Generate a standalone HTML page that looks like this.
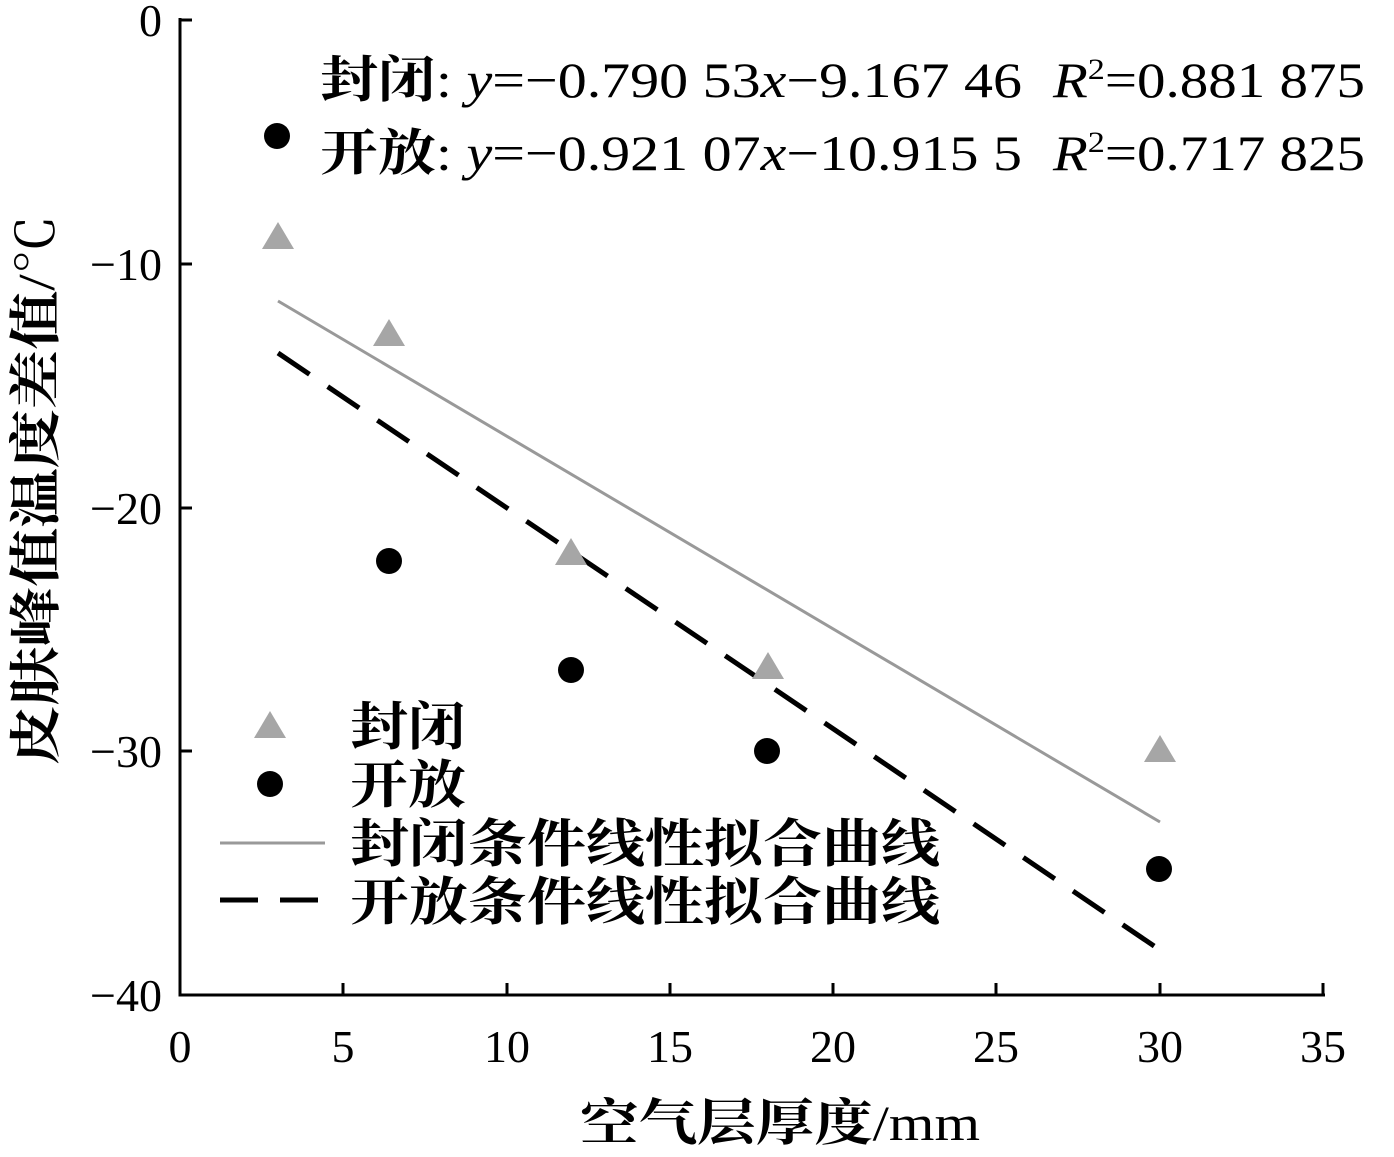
<!DOCTYPE html>
<html><head><meta charset="utf-8"><style>
html,body{margin:0;padding:0;background:#fff;}
svg{display:block;}
text{font-family:"Liberation Serif","Noto Serif CJK SC",serif;fill:#000;}
.cj{font-weight:bold;}
</style></head><body>
<svg width="1394" height="1157" viewBox="0 0 1394 1157" xmlns="http://www.w3.org/2000/svg">
<line x1="180" y1="18" x2="180" y2="995" stroke="#000" stroke-width="3"/>
<line x1="178.5" y1="995" x2="1325" y2="995" stroke="#000" stroke-width="3"/>
<g stroke="#000" stroke-width="3">
<line x1="343" y1="995" x2="343" y2="983"/>
<line x1="507" y1="995" x2="507" y2="983"/>
<line x1="670" y1="995" x2="670" y2="983"/>
<line x1="833" y1="995" x2="833" y2="983"/>
<line x1="996" y1="995" x2="996" y2="983"/>
<line x1="1160" y1="995" x2="1160" y2="983"/>
<line x1="1323" y1="995" x2="1323" y2="983"/>
<line x1="180" y1="20" x2="192" y2="20"/>
<line x1="180" y1="264" x2="192" y2="264"/>
<line x1="180" y1="508" x2="192" y2="508"/>
<line x1="180" y1="751" x2="192" y2="751"/>
</g>
<g font-size="46" text-anchor="middle">
<text x="180" y="1062">0</text>
<text x="343" y="1062">5</text>
<text x="507" y="1062">10</text>
<text x="670" y="1062">15</text>
<text x="833" y="1062">20</text>
<text x="996" y="1062">25</text>
<text x="1160" y="1062">30</text>
<text x="1323" y="1062">35</text>
</g>
<g font-size="46" text-anchor="end">
<text x="162" y="36">0</text>
<text x="162" y="280">−10</text>
<text x="162" y="524">−20</text>
<text x="162" y="767">−30</text>
<text x="162" y="1011">−40</text>
</g>
<text x="580" y="1140" font-size="50" textLength="400" lengthAdjust="spacingAndGlyphs"><tspan class="cj">空气层厚度</tspan>/mm</text>
<text transform="translate(54,765) rotate(-90)" font-size="52" textLength="550" lengthAdjust="spacingAndGlyphs"><tspan class="cj">皮肤峰值温度差值</tspan>/℃</text>
<line x1="278" y1="301" x2="1160" y2="822" stroke="#999" stroke-width="3"/>
<line x1="278" y1="353" x2="1160" y2="950" stroke="#000" stroke-width="5" stroke-dasharray="38,22"/>
<g fill="#a6a6a6">
<polygon points="278,222 262,249 294,249"/>
<polygon points="389,319 373,346 405,346"/>
<polygon points="571,538 555,565 587,565"/>
<polygon points="768,652 752,679 784,679"/>
<polygon points="1160,735 1144,762 1176,762"/>
<polygon points="270,711 254,738 286,738"/>
</g>
<g fill="#000">
<circle cx="389" cy="561" r="13"/>
<circle cx="571" cy="670" r="13"/>
<circle cx="767" cy="751" r="13"/>
<circle cx="1159" cy="869" r="13"/>
<circle cx="277" cy="136" r="13"/>
<circle cx="270" cy="784" r="13"/>
</g>
<text x="350" y="745" font-size="52" class="cj" textLength="116" lengthAdjust="spacingAndGlyphs">封闭</text>
<text x="350" y="803" font-size="52" class="cj" textLength="116" lengthAdjust="spacingAndGlyphs">开放</text>
<line x1="220" y1="843" x2="325" y2="843" stroke="#999" stroke-width="3"/>
<text x="350" y="862" font-size="52" class="cj" textLength="590" lengthAdjust="spacingAndGlyphs">封闭条件线性拟合曲线</text>
<line x1="220" y1="900" x2="330" y2="900" stroke="#000" stroke-width="5" stroke-dasharray="38,22"/>
<text x="350" y="920" font-size="52" class="cj" textLength="590" lengthAdjust="spacingAndGlyphs">开放条件线性拟合曲线</text>
<text x="320" y="97" font-size="50" textLength="702" lengthAdjust="spacingAndGlyphs"><tspan class="cj">封闭</tspan>: <tspan font-style="italic">y</tspan>=−0.790 53<tspan font-style="italic">x</tspan>−9.167 46</text>
<text x="1053" y="97" font-size="50" textLength="312" lengthAdjust="spacingAndGlyphs"><tspan font-style="italic">R</tspan><tspan font-size="30" dy="-18">2</tspan><tspan dy="18">=0.881 875</tspan></text>
<text x="320" y="170" font-size="50" textLength="702" lengthAdjust="spacingAndGlyphs"><tspan class="cj">开放</tspan>: <tspan font-style="italic">y</tspan>=−0.921 07<tspan font-style="italic">x</tspan>−10.915 5</text>
<text x="1053" y="170" font-size="50" textLength="312" lengthAdjust="spacingAndGlyphs"><tspan font-style="italic">R</tspan><tspan font-size="30" dy="-18">2</tspan><tspan dy="18">=0.717 825</tspan></text>
</svg>
</body></html>
